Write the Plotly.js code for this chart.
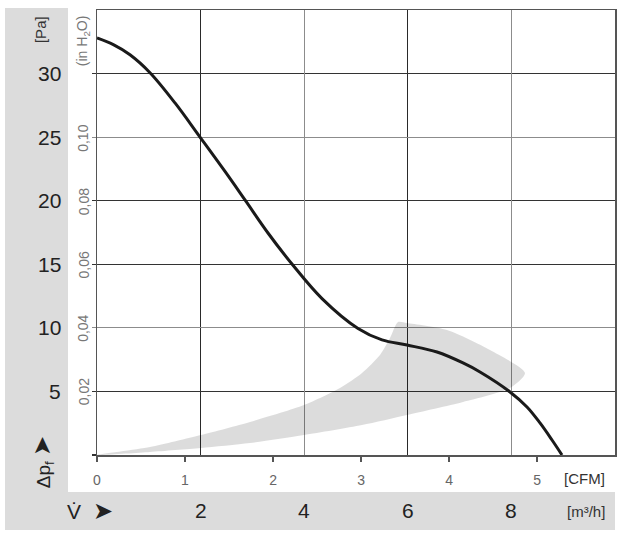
<!DOCTYPE html>
<html>
<head>
<meta charset="utf-8">
<script src="https://cdn.plot.ly/plotly-3.0.1.min.js"></script>
<style>html,body{margin:0;padding:0;background:#fff;}#chart{width:626px;height:542px;}</style>
</head>
<body>
<div id="chart"></div>
<script>
// ---- data (m³/h vs Pa) ----
const curveFlow = [0, 0.315, 0.637, 1.023, 1.506, 1.988, 2.471, 2.857, 3.301, 3.764, 4.344, 5.039, 5.502, 5.985, 6.564, 7.066, 7.394, 7.973, 8.301, 8.552, 8.784, 8.977];
const curvePa   = [32.8, 32.28, 31.48, 30.07, 27.69, 25.01, 22.30, 20.06, 17.46, 15.02, 12.30, 9.95, 9.05, 8.65, 8.10, 7.24, 6.53, 4.96, 3.78, 2.52, 1.18, 0];

// operating-range band outline (upper edge, top arc, lower edge back to origin)
const bandFlow = [0, 1.023, 2.008, 2.954, 3.996, 4.691, 5.116, 5.463, 5.656, 5.811, 5.985, 6.757, 7.587, 8.263, 7.973, 7.066, 5.985, 5.116, 3.996, 2.954, 2.008, 1.023, 0];
const bandPa   = [0, 0.63, 1.57, 2.60, 3.93, 5.27, 6.45, 7.87, 9.20, 10.46, 10.38, 9.83, 8.26, 6.45, 5.27, 4.17, 3.15, 2.36, 1.57, 0.94, 0.55, 0.24, 0];

// tick labels
const paTicks     = [5, 10, 15, 20, 25, 30];
const inH2OTicks  = [0.02, 0.04, 0.06, 0.08, 0.10];
const inH2OLabels = ['0,02', '0,04', '0,06', '0,08', '0,10'];
const m3hTicks    = [2, 4, 6, 8];
const cfmTicks    = [0, 1, 2, 3, 4, 5];

const PA_PER_INH2O = 249.09;
const M3H_PER_CFM = 1.699;
const FONT = 'Liberation Sans, Arial, Helvetica, sans-serif';

const traces = [
  {x: bandFlow, y: bandPa, type: 'scatter', mode: 'lines', fill: 'toself',
   fillcolor: 'rgba(0,0,0,0.137)', line: {width: 0, shape: 'spline', smoothing: 0.7},
   hoverinfo: 'skip', showlegend: false},
  {x: curveFlow, y: curvePa, type: 'scatter', mode: 'lines',
   line: {color: '#1a1a1a', width: 3, shape: 'spline', smoothing: 1.0},
   hoverinfo: 'skip', showlegend: false},
  {x: [null], y: [null], xaxis: 'x2', yaxis: 'y', type: 'scatter', mode: 'lines', showlegend: false, hoverinfo: 'skip'},
  {x: [null], y: [null], xaxis: 'x3', yaxis: 'y3', type: 'scatter', mode: 'lines', showlegend: false, hoverinfo: 'skip'}
];

const anns = [];
paTicks.forEach(v => anns.push({xref: 'paper', yref: 'y', x: -0.066, y: v, xanchor: 'right', yanchor: 'middle',
  text: String(v), showarrow: false, font: {family: FONT, size: 21, color: '#222'}}));
inH2OTicks.forEach((v, i) => anns.push({xref: 'paper', yref: 'y', x: -0.026, y: v * PA_PER_INH2O, xanchor: 'center', yanchor: 'middle',
  text: inH2OLabels[i], textangle: -90, showarrow: false, font: {family: FONT, size: 14, color: '#777'}}));
m3hTicks.forEach(v => anns.push({xref: 'x', yref: 'paper', x: v, y: -0.1236, xanchor: 'center', yanchor: 'middle',
  text: String(v), showarrow: false, font: {family: FONT, size: 21, color: '#222'}}));
anns.push({xref: 'paper', yref: 'paper', x: -0.027, y: 0.93, xanchor: 'center', yanchor: 'middle', textangle: -90,
  text: '(in H<sub>2</sub>O)', showarrow: false, font: {family: FONT, size: 14, color: '#777'}});
anns.push({xref: 'paper', yref: 'paper', x: -0.110, y: 0.955, xanchor: 'center', yanchor: 'middle', textangle: -90,
  text: '[Pa]', showarrow: false, font: {family: FONT, size: 15, color: '#333'}});
anns.push({xref: 'paper', yref: 'paper', x: -0.106, y: -0.016, xanchor: 'center', yanchor: 'middle', textangle: -90,
  text: 'Δp<sub>f</sub> <span style="font-size:24px">➤</span>', showarrow: false, font: {family: FONT, size: 19, color: '#222'}});
anns.push({xref: 'paper', yref: 'paper', x: -0.014, y: -0.1236, xanchor: 'center', yanchor: 'middle',
  text: 'V̇  <span style="font-size:24px">➤</span>', showarrow: false, font: {family: FONT, size: 21, color: '#222'}});
anns.push({xref: 'paper', yref: 'paper', x: 0.985, y: -0.128, xanchor: 'right', yanchor: 'middle',
  text: '[m³/h]', showarrow: false, font: {family: FONT, size: 15, color: '#333'}});
anns.push({xref: 'paper', yref: 'paper', x: 0.985, y: -0.052, xanchor: 'right', yanchor: 'middle',
  text: '[CFM]', showarrow: false, font: {family: FONT, size: 15, color: '#333'}});

const layout = {
  width: 626, height: 542,
  margin: {l: 97, r: 11, t: 10, b: 87},
  paper_bgcolor: '#ffffff', plot_bgcolor: 'rgba(0,0,0,0)',
  showlegend: false,
  xaxis: {range: [0, 10], tickvals: [2, 6], showgrid: true, gridcolor: '#2a2a2a', gridwidth: 1.2,
    showticklabels: false, ticks: '', zeroline: false, showline: true, mirror: true, linecolor: '#555', linewidth: 1.5, fixedrange: true},
  xaxis3: {overlaying: 'x', anchor: 'y3', range: [0, 10], tickvals: [4, 8], showgrid: true, gridcolor: '#8c8c8c', gridwidth: 1.2,
    showticklabels: false, ticks: '', zeroline: false, showline: false, fixedrange: true},
  xaxis2: {overlaying: 'x', anchor: 'y', side: 'bottom', range: [0, 10 / M3H_PER_CFM], tickvals: cfmTicks, ticktext: cfmTicks.map(String),
    showgrid: false, zeroline: false, showline: false, ticks: 'outside', ticklen: 6, tickwidth: 1.2, tickcolor: '#555',
    ticklabelstandoff: 6, tickfont: {family: FONT, size: 14, color: '#666'}, fixedrange: true},
  yaxis: {range: [0, 35], tickvals: [0, 5, 15, 20, 30], showgrid: true, gridcolor: '#333', gridwidth: 1.2,
    ticks: 'outside', ticklen: 4, tickcolor: '#333', tickwidth: 1.2, showticklabels: false, zeroline: false,
    showline: true, mirror: true, linecolor: '#555', linewidth: 1.5, fixedrange: true},
  yaxis3: {overlaying: 'y', anchor: 'x3', side: 'left', range: [0, 35], tickvals: [10, 25], showgrid: true, gridcolor: '#8c8c8c', gridwidth: 1.2,
    ticks: 'outside', ticklen: 4, tickcolor: '#8c8c8c', tickwidth: 1.2, showticklabels: false, zeroline: false, showline: false, fixedrange: true},
  shapes: [
    {type: 'rect', xref: 'paper', yref: 'paper', x0: -0.1776, x1: -0.056, y0: -0.1685, y1: 1.0045, fillcolor: '#dcdcdc', line: {width: 0}, layer: 'below'},
    {type: 'rect', xref: 'paper', yref: 'paper', x0: -0.1776, x1: 1.0, y0: -0.1685, y1: -0.0831, fillcolor: '#dcdcdc', line: {width: 0}, layer: 'below'}
  ],
  annotations: anns
};

Plotly.newPlot('chart', traces, layout, {staticPlot: true, displayModeBar: false});
</script>
</body>
</html>
